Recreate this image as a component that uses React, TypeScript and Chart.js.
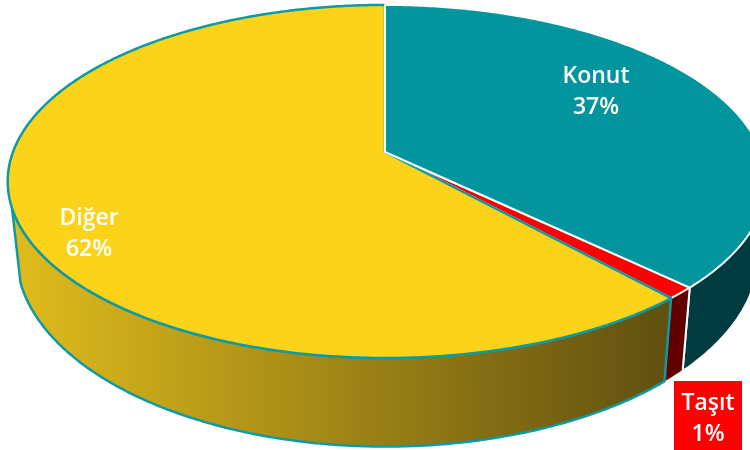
import React, { useEffect, useRef } from "react";
import { Chart, registerables } from "chart.js";

Chart.register(...registerables);

const categories = ["Konut", "Taşıt", "Diğer"];
const shares = [37.3, 1.1, 61.6];
const topColors = ["#03959E", "#FF0000", "#FCD31B"];
const edgeColors = ["#FFFFFF", "#FFFFFF", "#0E9AA3"];
const wallColors = ["#003C3F", "#620000", "gradient"];
const labelAnchors = [
  { x: 596, y: 76 },
  { x: 708, y: 403 },
  { x: 89, y: 218 },
];

// Perspective of the tilted disc
const APEX = { x: 385, y: 152 };
const K = 0.167;
const S = 171.6;
const R_RIGHT = 376;
const R_LEFT = 372;
// Lower rim of the wall relative to the upper rim
const WALL_X = 0.977;
const WALL_Y = 1.09;
const WALL_DROP = 70;
const FRONT_START = (108 * Math.PI) / 180;
const FRONT_END = (252 * Math.PI) / 180;

const upper = (t: number) => {
  const u = Math.sin(t);
  const v = -Math.cos(t);
  const d = 1 - K * v;
  return { x: APEX.x + ((u >= 0 ? R_RIGHT : R_LEFT) * u) / d, y: APEX.y + (S * v) / d };
};
const lower = (t: number) => {
  const p = upper(t);
  return {
    x: APEX.x + WALL_X * (p.x - APEX.x),
    y: APEX.y + WALL_DROP + WALL_Y * (p.y - APEX.y),
  };
};

const samples = (a: number, b: number) => {
  const n = Math.max(2, Math.ceil(Math.abs(b - a) / 0.01));
  return Array.from({ length: n + 1 }, (_, i) => a + ((b - a) * i) / n);
};

const tiltedPie = {
  id: "tiltedPie",
  beforeDatasetsDraw(chart: any) {
    const ctx = chart.ctx as CanvasRenderingContext2D;
    const arcs = chart.getDatasetMeta(0).data as any[];
    const spans = arcs.map((a) => [a.startAngle + Math.PI / 2, a.endAngle + Math.PI / 2]);

    const grad = ctx.createLinearGradient(15, 0, 665, 0);
    grad.addColorStop(0, "#DFBC1C");
    grad.addColorStop(1, "#615010");

    ctx.save();
    ctx.lineJoin = "round";

    // side walls
    [0, 1, 2].forEach((i) => {
      const a = Math.max(spans[i][0], FRONT_START);
      const b = Math.min(spans[i][1], FRONT_END);
      if (b <= a) return;
      ctx.beginPath();
      samples(a, b).forEach((t, j) => {
        const p = upper(t);
        j ? ctx.lineTo(p.x, p.y) : ctx.moveTo(p.x, p.y);
      });
      samples(b, a).forEach((t) => {
        const p = lower(t);
        ctx.lineTo(p.x, p.y);
      });
      ctx.closePath();
      ctx.fillStyle = wallColors[i] === "gradient" ? grad : wallColors[i];
      ctx.fill();
      ctx.strokeStyle = edgeColors[i];
      ctx.lineWidth = i === 2 ? 2.5 : 2;
      if (i === 2) {
        ctx.stroke();
      } else {
        ctx.beginPath();
        const edge = i === 0 ? b : a;
        const e0 = upper(edge);
        const e1 = lower(edge);
        ctx.moveTo(e0.x, e0.y);
        ctx.lineTo(e1.x, e1.y);
        ctx.stroke();
      }
    });

    // top faces
    [1, 2, 0].forEach((i) => {
      ctx.beginPath();
      ctx.moveTo(APEX.x, APEX.y);
      samples(spans[i][0], spans[i][1]).forEach((t) => {
        const p = upper(t);
        ctx.lineTo(p.x, p.y);
      });
      ctx.closePath();
      ctx.fillStyle = arcs[i].options.backgroundColor;
      ctx.fill();
      ctx.strokeStyle = edgeColors[i];
      ctx.lineWidth = i === 2 ? 2.5 : 2;
      ctx.stroke();
    });

    // labels
    ctx.textAlign = "center";
    ctx.textBaseline = "middle";
    ctx.font = '600 23px "Open Sans", sans-serif';
    const total = shares.reduce((s, v) => s + v, 0);
    categories.forEach((name, i) => {
      const at = labelAnchors[i];
      if (i === 1) {
        ctx.fillStyle = "#FF0000";
        ctx.fillRect(at.x - 34, at.y - 22, 68, 70);
      }
      ctx.fillStyle = "#FFFFFF";
      ctx.fillText(name, at.x, at.y);
      ctx.fillText(`${Math.round((shares[i] / total) * 100)}%`, at.x, at.y + 31);
    });
    ctx.restore();
    return false;
  },
};

export default function App() {
  const ref = useRef<HTMLCanvasElement>(null);
  useEffect(() => {
    const chart = new Chart(ref.current!, {
      type: "pie",
      data: {
        labels: categories,
        datasets: [{ data: shares, backgroundColor: topColors, borderColor: edgeColors }],
      },
      options: {
        responsive: false,
        animation: false,
        plugins: { legend: { display: false }, tooltip: { enabled: false } },
      },
      plugins: [tiltedPie],
    } as any);
    return () => chart.destroy();
  }, []);
  return (
    <div style={{ position: "fixed", left: 0, top: 0, width: 750, height: 450, overflow: "hidden", background: "#fff" }}>
      <canvas ref={ref} width={750} height={450} style={{ display: "block" }} />
    </div>
  );
}
